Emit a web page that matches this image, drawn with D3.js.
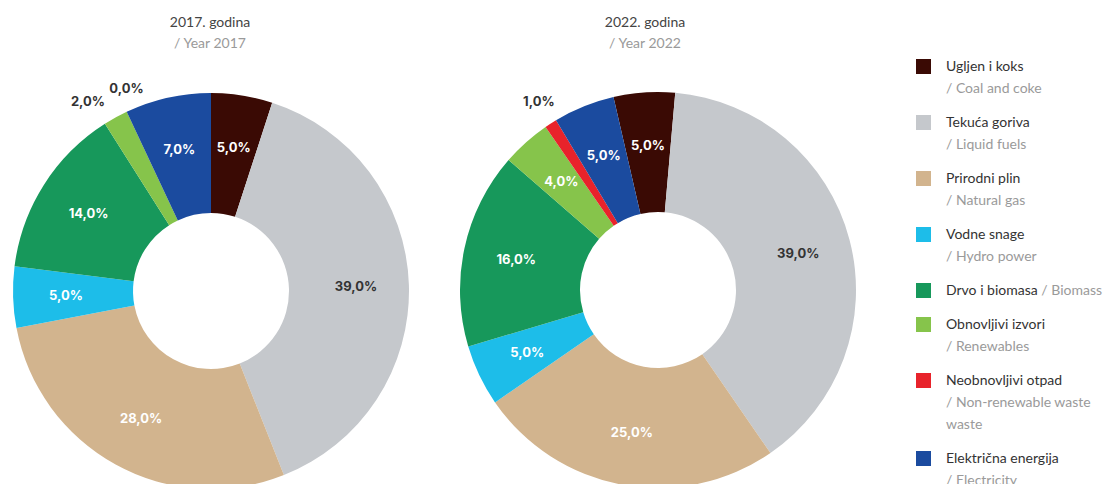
<!DOCTYPE html>
<html>
<head>
<meta charset="utf-8">
<script src="https://cdn.jsdelivr.net/npm/d3@7"></script>
<style>
  html, body { margin: 0; padding: 0; background: #fff; }
  svg { display: block; }
</style>
</head>
<body>
<svg id="chart" width="1108" height="484"></svg>
<script>
// podaci
var categories = ["Ugljen i koks", "Tekuća goriva", "Prirodni plin", "Vodne snage",
    "Drvo i biomasa", "Obnovljivi izvori", "Neobnovljivi otpad", "Električna energija"];
var categoriesEn = [["/ Coal and coke"], ["/ Liquid fuels"], ["/ Natural gas"], ["/ Hydro power"],
    [], ["/ Renewables"], ["/ Non-renewable waste", "waste"], ["/ Electricity"]];
var inlineEn = [null, null, null, null, " / Biomass", null, null, null];
var colors = ["#3a0a04", "#c5c8cc", "#d2b48e", "#1dbde9", "#17985b", "#86c44b", "#e8232b", "#1b4b9f"];

var years = ["2017", "2022"];
var values2017 = [5, 39, 28, 5, 14, 2, 0, 7];
var values2022 = [5, 39, 25, 5, 16, 4, 1, 5];

var svg = d3.select("#chart");
var fmt = d3.format(".1f");
function pct(v) { return fmt(v).replace(".", ",") + "%"; }

// raspored
var charts = [
    { year: years[0], values: values2017, cx: 211, cy: 291, titleX: 210, start: 0 },
    { year: years[1], values: values2022, cx: 658, cy: 290, titleX: 645, start: -13 }
];
var outerR = 198, innerR = 78, labelR = 145;

charts.forEach(function (c) {
    var a0 = c.start * Math.PI / 180;
    var pie = d3.pie().sort(null)
        .value(function (d) { return d.v; })
        .startAngle(a0).endAngle(a0 + 2 * Math.PI);
    var arcs = pie(c.values.map(function (v, i) { return { v: v, i: i }; }));

    var arc = d3.arc().innerRadius(innerR).outerRadius(outerR);
    var labelArc = d3.arc().innerRadius(labelR).outerRadius(labelR);
    var outArc = d3.arc().innerRadius(outerR + 22).outerRadius(outerR + 22);

    var g = svg.append("g").attr("transform", "translate(" + c.cx + "," + c.cy + ")");

    g.selectAll("path")
        .data(arcs)
        .enter().append("path")
        .attr("d", arc)
        .attr("fill", function (d) { return colors[d.data.i]; });

    // unutarnje oznake
    g.selectAll(".lbl")
        .data(arcs.filter(function (d) { return d.data.v >= 3; }))
        .enter().append("text")
        .attr("class", "lbl")
        .attr("transform", function (d) { return "translate(" + labelArc.centroid(d) + ")"; })
        .attr("text-anchor", "middle")
        .attr("dy", "0.35em")
        .style("font-family", "Inter, 'Open Sans', sans-serif")
        .style("font-weight", "700")
        .style("font-size", "13px")
        .style("fill", function (d) { return d.data.i === 1 ? "#333" : "#fff"; })
        .text(function (d) { return pct(d.data.v); });

    // vanjske oznake (mali udjeli)
    var small = arcs.filter(function (d) { return d.data.v < 3; });
    small.forEach(function (d, k) {
        var p = outArc.centroid(d);
        var anchor = "middle", dx = 0, dy = -4;
        if (small.length > 1) {
            anchor = k === 0 ? "end" : "start";
            dx = k === 0 ? 0 : -8;
            dy = k === 0 ? 3 : -4;
        }
        g.append("text")
            .attr("x", p[0] + dx)
            .attr("y", p[1] + dy)
            .attr("dy", "0.35em")
            .attr("text-anchor", anchor)
            .style("font-family", "Inter, 'Open Sans', sans-serif")
            .style("font-weight", "700")
            .style("font-size", "13px")
            .style("fill", "#333")
            .text(pct(d.data.v));
    });

    // naslov
    var t = svg.append("text")
        .attr("x", c.titleX)
        .attr("y", 27)
        .attr("text-anchor", "middle")
        .style("font-family", "Lato, sans-serif")
        .style("font-size", "14px");
    t.append("tspan").attr("x", c.titleX).style("fill", "#444").text(c.year + ". godina");
    t.append("tspan").attr("x", c.titleX).attr("dy", 21).style("fill", "#9a9a9a").text("/ Year " + c.year);
});

// legenda
var legX = 916, legTextX = 946, lineH = 22;
var y = 66;
categories.forEach(function (name, i) {
    var lines = 1 + categoriesEn[i].length;
    svg.append("rect")
        .attr("x", legX)
        .attr("y", y - 7)
        .attr("width", 15)
        .attr("height", 15)
        .attr("fill", colors[i]);

    var txt = svg.append("text")
        .attr("x", legTextX)
        .attr("y", y)
        .attr("dy", "0.35em")
        .style("font-family", "Lato, sans-serif")
        .style("font-size", "14px");
    txt.append("tspan").style("fill", "#333").text(name);
    if (inlineEn[i]) txt.append("tspan").style("fill", "#9a9a9a").text(inlineEn[i]);
    categoriesEn[i].forEach(function (s) {
        txt.append("tspan").attr("x", legTextX).attr("dy", lineH).style("fill", "#9a9a9a").text(s);
    });
    y += lines * lineH + 12;
});
</script>
</body>
</html>
